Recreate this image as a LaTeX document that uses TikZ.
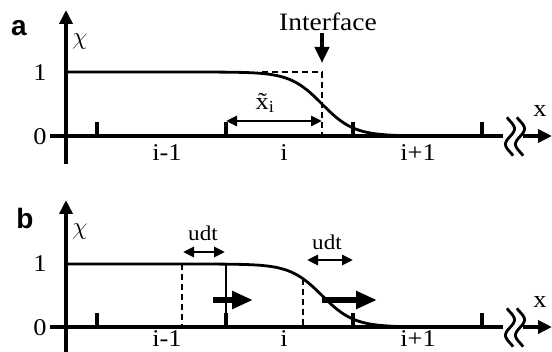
\documentclass[tikz,border=0pt]{standalone}
\usepackage{fontspec}
\setmainfont{Liberation Serif}[FakeStretch=1.1]
\newfontfamily\panelfont{Liberation Sans}
\usetikzlibrary{arrows.meta}
\tikzset{
  ax/.style={line width=4pt},
  crv/.style={line width=2.8pt},
  tickmark/.style={line width=3.2pt},
  dsh/.style={line width=2.4pt, dash pattern=on 6pt off 4pt},
  dbl/.style={line width=2.8pt, {Triangle[length=11pt,width=10pt]}-{Triangle[length=11pt,width=10pt]}},
  axarrow/.style={line width=4pt, -{Triangle[length=14pt,width=13pt]}},
  blockarrow/.style={line width=6pt, -{Triangle[length=21pt,width=17pt]}},
  lbl/.style={inner sep=0pt, font=\fontsize{24}{28}\selectfont},
  small/.style={inner sep=0pt, font=\fontsize{21}{25}\selectfont},
  panel/.style={inner sep=0pt, font=\panelfont\bfseries\fontsize{28}{32}\selectfont},
  brk/.style={line width=2.8pt}
}
\begin{document}
\begin{tikzpicture}[x=1pt,y=-1pt]
\useasboundingbox (0,0) rectangle (552,352);
% ================= panel a =================
\coordinate (aYb) at (66,164);
\coordinate (aYt) at (66,10);
\coordinate (aXl) at (50,136);
\coordinate (aXr) at (503,136);
\coordinate (aXs) at (523,136);
\coordinate (aXe) at (552,136);
\draw[ax] (aXl) -- (aXr);
\draw[axarrow] (aXs) -- (aXe);
\draw[axarrow] (aYb) -- (aYt);
\foreach \t in {97,226,353,482} \draw[tickmark] (\t,136) -- (\t,122);
\foreach \s in {510,520}
  \draw[brk] plot[domain=-0.12:1.12,samples=40,smooth] ({\s+4.5*sin(360*\x)},{121+31*\x});
\draw[crv] plot[domain=66:420,samples=150] (\x,{136-64*0.5*(1-tanh((\x-322)/32))});
\coordinate (aD1) at (262,72);
\coordinate (aD2) at (322,72);
\coordinate (aD3) at (322,136);
\draw[dsh] (aD1) -- (aD2) -- (aD3);
\node[panel] (alab) at (19,28) {a};
\node[lbl] (achi) at (80,42) {$\chi$};
\node[lbl] (aone) at (40,73) {1};
\node[lbl] (azero) at (40,137) {0};
\node[lbl] (axl) at (540,111) {x};
\node[lbl] (aim1) at (167,153) {i-1};
\node[lbl] (ai) at (284,153) {i};
\node[lbl] (aip1) at (418,153) {i+1};
\node[lbl, font=\fontsize{25}{29}\selectfont] (iface) at (328,22) {Interface};
\coordinate (aI1) at (322,33);
\coordinate (aI2) at (322,63);
\draw[line width=4.5pt, -{Triangle[length=16pt,width=14pt]}] (aI1) -- (aI2);
\coordinate (aW1) at (226,121);
\coordinate (aW2) at (322,121);
\draw[dbl] (aW1) -- (aW2);
\node[lbl] (xt) at (265,103) {\~{x}\textsubscript{i}};
% ================= panel b =================
\coordinate (bYb) at (66,355);
\coordinate (bYt) at (66,200);
\coordinate (bXl) at (50,327);
\coordinate (bXr) at (503,327);
\coordinate (bXs) at (523,327);
\coordinate (bXe) at (552,327);
\draw[ax] (bXl) -- (bXr);
\draw[axarrow] (bXs) -- (bXe);
\draw[axarrow] (bYb) -- (bYt);
\foreach \t in {97,226,353,482} \draw[tickmark] (\t,327) -- (\t,313);
\foreach \s in {510,520}
  \draw[brk] plot[domain=-0.12:1.12,samples=40,smooth] ({\s+4.5*sin(360*\x)},{312+31*\x});
\draw[crv] plot[domain=66:420,samples=150] (\x,{327-63*0.5*(1-tanh((\x-322)/32))});
\node[panel] (blab) at (25,218) {b};
\node[lbl] (bchi) at (80,232) {$\chi$};
\node[lbl] (bone) at (40,264) {1};
\node[lbl] (bzero) at (40,328) {0};
\node[lbl] (bxl) at (540,302) {x};
\node[lbl] (bim1) at (167,339) {i-1};
\node[lbl] (bi) at (284,339) {i};
\node[lbl] (bip1) at (418,339) {i+1};
% verticals
\coordinate (bV1t) at (182,264);
\coordinate (bV1b) at (182,327);
\draw[dsh] (bV1t) -- (bV1b);
\coordinate (bV2t) at (226,264);
\coordinate (bV2b) at (226,327);
\draw[line width=2.2pt] (bV2t) -- (bV2b);
\coordinate (bV3t) at (303,{327-63*0.5*(1-tanh((303-322)/32))});
\coordinate (bV3b) at (303,327);
\draw[dsh] (bV3t) -- (bV3b);
% udt arrows
\coordinate (bU1a) at (183,252);
\coordinate (bU1b) at (225,252);
\draw[dbl] (bU1a) -- (bU1b);
\node[small] (udt1) at (203,233) {udt};
\coordinate (bU2a) at (307,260);
\coordinate (bU2b) at (353,260);
\draw[dbl] (bU2a) -- (bU2b);
\node[small] (udt2) at (327,242) {udt};
% block arrows
\coordinate (bA1a) at (213,300);
\coordinate (bA1b) at (253,300);
\draw[blockarrow] (bA1a) -- (bA1b);
\coordinate (bA2a) at (322,300);
\coordinate (bA2b) at (377,300);
\draw[blockarrow] (bA2a) -- (bA2b);
\end{tikzpicture}
\end{document}
